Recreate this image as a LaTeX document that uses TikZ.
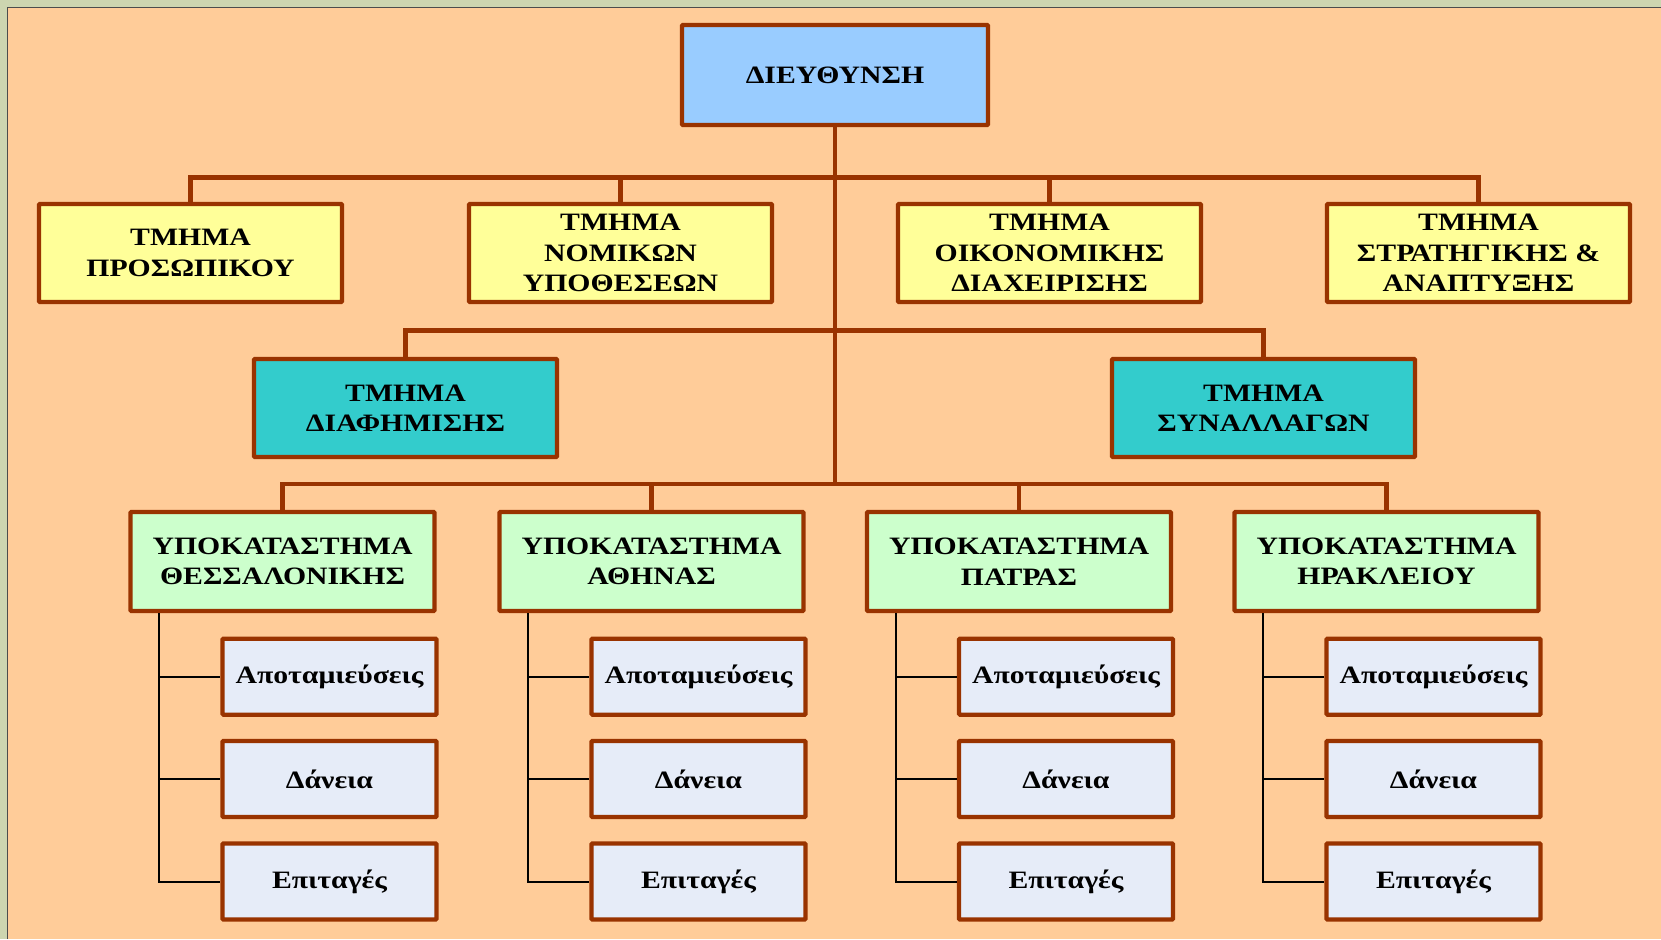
\documentclass[tikz,border=0pt]{standalone}
\usepackage{fontspec}
\setmainfont{Liberation Serif}[FakeStretch=1.19]
\usetikzlibrary{calc}
\definecolor{bgpeach}{RGB}{255,204,153}
\definecolor{bgstrip}{RGB}{205,213,176}
\definecolor{brd}{RGB}{153,51,0}
\definecolor{cblue}{RGB}{153,204,255}
\definecolor{cyellow}{RGB}{255,255,153}
\definecolor{cteal}{RGB}{51,204,204}
\definecolor{cgreen}{RGB}{204,255,204}
\definecolor{clav}{RGB}{230,236,248}
\tikzset{
  box/.style={draw=brd, line width=4.3pt, rounded corners=1pt, align=center, inner sep=0pt,
    font=\fontsize{25}{30.5}\selectfont\bfseries, text=black},
  topbox/.style={box, fill=cblue, minimum width=306pt, minimum height=100pt},
  deptbox/.style={box, fill=cyellow, minimum width=303pt, minimum height=98pt},
  sidebox/.style={box, fill=cteal, minimum width=303pt, minimum height=98pt},
  branchbox/.style={box, fill=cgreen, minimum width=304pt, minimum height=99pt},
  subbox/.style={box, fill=clav, minimum width=214pt, minimum height=76pt},
  link/.style={draw=brd, line width=4.3pt},
  sublink/.style={draw=black, line width=2pt},
}
\begin{document}
\begin{tikzpicture}[x=1pt,y=-1pt]
\useasboundingbox (0,0) rectangle (1661,939);
\fill[bgstrip] (0,0) rectangle (1661,939);
\fill[bgpeach] (7,8) rectangle (1661,939);
\draw[black!70, line width=1pt] (7,939) -- (7,8) -- (1661,8);

% nodes
\node[topbox] (dir) at (835,75) {ΔΙΕΥΘΥΝΣΗ};

\node[deptbox] (d1) at (190.5,253) {ΤΜΗΜΑ\\ΠΡΟΣΩΠΙΚΟΥ};
\node[deptbox] (d2) at (620.5,253) {ΤΜΗΜΑ\\ΝΟΜΙΚΩΝ\\ΥΠΟΘΕΣΕΩΝ};
\node[deptbox] (d3) at (1049.5,253) {ΤΜΗΜΑ\\ΟΙΚΟΝΟΜΙΚΗΣ\\ΔΙΑΧΕΙΡΙΣΗΣ};
\node[deptbox] (d4) at (1478.5,253) {ΤΜΗΜΑ\\ΣΤΡΑΤΗΓΙΚΗΣ \&\\ΑΝΑΠΤΥΞΗΣ};

\node[sidebox] (m1) at (405.5,408) {ΤΜΗΜΑ\\ΔΙΑΦΗΜΙΣΗΣ};
\node[sidebox] (m2) at (1263.5,408) {ΤΜΗΜΑ\\ΣΥΝΑΛΛΑΓΩΝ};

\node[branchbox] (b1) at (282.5,561.5) {ΥΠΟΚΑΤΑΣΤΗΜΑ\\ΘΕΣΣΑΛΟΝΙΚΗΣ};
\node[branchbox] (b2) at (651.5,561.5) {ΥΠΟΚΑΤΑΣΤΗΜΑ\\ΑΘΗΝΑΣ};
\node[branchbox] (b3) at (1019,561.5) {ΥΠΟΚΑΤΑΣΤΗΜΑ\\ΠΑΤΡΑΣ};
\node[branchbox] (b4) at (1386.5,561.5) {ΥΠΟΚΑΤΑΣΤΗΜΑ\\ΗΡΑΚΛΕΙΟΥ};

\foreach \i/\bx in {1/282.5,2/651.5,3/1019,4/1386.5}{
  \node[subbox] (s\i a) at (\bx+47,676.7) {Αποταμιεύσεις};
  \node[subbox] (s\i b) at (\bx+47,779) {Δάνεια};
  \node[subbox] (s\i c) at (\bx+47,881.5) {Επιταγές};
  \coordinate (v\i) at ($(b\i.south west)+(31,0)$);
  \draw[sublink] (v\i) |- (s\i c.west);
  \draw[sublink] (v\i |- s\i a.west) -- (s\i a.west);
  \draw[sublink] (v\i |- s\i b.west) -- (s\i b.west);
}

% brown connectors
\coordinate (bus1) at (835,177.5);
\coordinate (bus2) at (835,330.5);
\coordinate (bus3) at (835,484);
\draw[link] (dir.south) -- (bus3);
\draw[link] (d1.north) |- (bus1) -| (d4.north);
\draw[link] (d2.north) -- (d2.north |- bus1);
\draw[link] (d3.north) -- (d3.north |- bus1);
\draw[link] (m1.north) |- (bus2) -| (m2.north);
\draw[link] (b1.north) |- (bus3) -| (b4.north);
\draw[link] (b2.north) -- (b2.north |- bus3);
\draw[link] (b3.north) -- (b3.north |- bus3);
\end{tikzpicture}
\end{document}
